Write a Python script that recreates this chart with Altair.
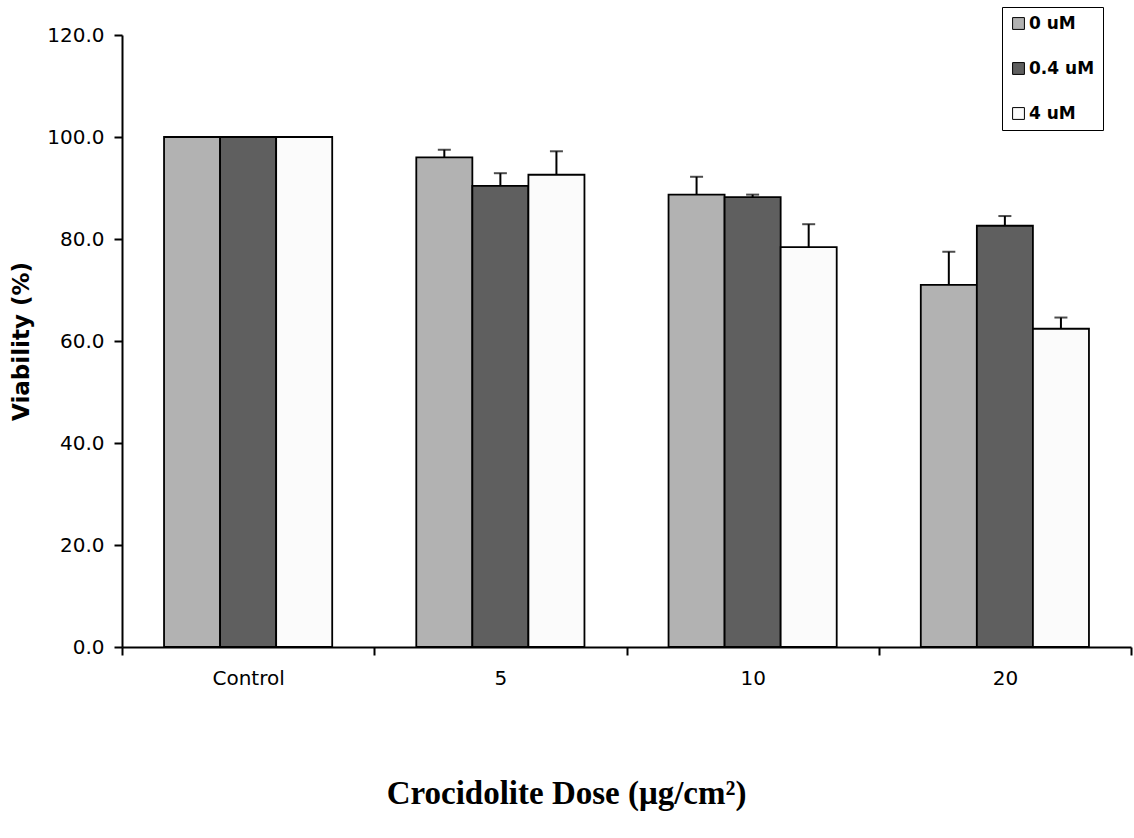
import altair as alt
import pandas as pd

doses = ["Control", "5", "10", "20"]
series = ["0 uM", "0.4 uM", "4 uM"]
colors = ["#b2b2b2", "#5f5f5f", "#fbfbfb"]

mean_0 = [100.0, 96.0, 88.7, 71.0]
mean_04 = [100.0, 90.4, 88.2, 82.6]
mean_4 = [100.0, 92.6, 78.4, 62.4]

err_0 = [0.0, 1.5, 3.5, 6.5]
err_04 = [0.0, 2.5, 0.5, 1.9]
err_4 = [0.0, 4.6, 4.5, 2.2]

rows = []
for s, means, errs in zip(series, [mean_0, mean_04, mean_4], [err_0, err_04, err_4]):
    for d, m, e in zip(doses, means, errs):
        rows.append({"dose": d, "series": s, "value": m, "upper": m + e})
df = pd.DataFrame(rows)

x_enc = alt.X(
    "dose:N",
    sort=doses,
    scale=alt.Scale(paddingInner=0, paddingOuter=0),
    axis=alt.Axis(
        title="Crocidolite Dose (μg/cm²)",
        titleFont="Liberation Serif",
        titleFontSize=33,
        titleFontWeight="bold",
        titleColor="black",
        titleX=444,
        titleY=156,
        titleAlign="center",
        titleBaseline="alphabetic",
        labelFont="DejaVu Sans",
        labelFontSize=20,
        labelColor="black",
        labelAngle=0,
        labelPadding=13,
        tickBand="extent",
        tickSize=8,
        tickWidth=2,
        tickColor="black",
        domainColor="black",
        domainWidth=2,
        grid=False,
    ),
)
xoff = alt.XOffset(
    "series:N",
    sort=series,
    scale=alt.Scale(paddingInner=0, paddingOuter=0.75),
)
y_axis = alt.Axis(
    title="Viability (%)",
    titleFont="DejaVu Sans",
    titleFontSize=23,
    titleFontWeight="bold",
    titleColor="black",
    titleAngle=270,
    titleX=-101,
    titleY=306,
    titleAlign="center",
    titleBaseline="middle",
    format=".1f",
    values=[0, 20, 40, 60, 80, 100, 120],
    labelFont="DejaVu Sans",
    labelFontSize=20,
    labelColor="black",
    labelPadding=10,
    tickSize=8,
    tickWidth=2,
    tickColor="black",
    domainColor="black",
    domainWidth=2,
    grid=False,
)
y_scale = alt.Scale(domain=[0, 120], nice=False)

bars = alt.Chart(df).mark_bar(stroke="black", strokeWidth=1.8).encode(
    x=x_enc,
    xOffset=xoff,
    y=alt.Y("value:Q", scale=y_scale, axis=y_axis),
    fill=alt.Fill(
        "series:N",
        sort=series,
        scale=alt.Scale(domain=series, range=colors),
        legend=alt.Legend(
            title=None,
            orient="none",
            legendX=880,
            legendY=-28,
            strokeColor="black",
            fillColor="white",
            padding=8,
            rowPadding=27,
            symbolType="square",
            symbolSize=140,
            symbolStrokeColor="black",
            symbolStrokeWidth=1,
            labelFont="DejaVu Sans",
            labelFontSize=17,
            labelFontWeight="bold",
            labelColor="black",
            labelOffset=2,
        ),
    ),
)

rules = alt.Chart(df).mark_rule(color="black", strokeWidth=2).encode(
    x=alt.X("dose:N", sort=doses),
    xOffset=alt.XOffset("series:N", sort=series),
    y=alt.Y("value:Q"),
    y2=alt.Y2("upper:Q"),
)

caps = alt.Chart(df).mark_tick(color="black", thickness=2, size=13, orient="horizontal").encode(
    x=alt.X("dose:N", sort=doses),
    xOffset=alt.XOffset("series:N", sort=series),
    y=alt.Y("upper:Q"),
)

chart = (
    alt.layer(bars, rules, caps)
    .properties(
        width=1009,
        height=612,
        autosize=alt.AutoSizeParams(type="none"),
        padding={"left": 122, "top": 35, "right": 3, "bottom": 191},
        background="white",
    )
    .configure_view(stroke=None)
)

chart.save("out.html", embed_options={"renderer": "svg", "actions": False})
